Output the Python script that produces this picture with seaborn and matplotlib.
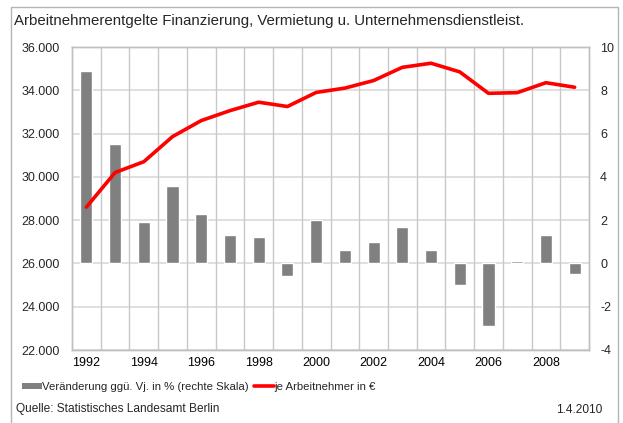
import matplotlib
matplotlib.use("Agg")
import matplotlib.pyplot as plt
from matplotlib.patches import Rectangle, Patch
from matplotlib.lines import Line2D
from matplotlib.ticker import FuncFormatter, FixedLocator
import seaborn as sns
import pandas as pd

years = [str(y) for y in range(1992, 2010)]
change_pct = [8.9, 5.5, 1.9, 3.6, 2.3, 1.3, 1.2, -0.6, 2.0, 0.6,
              1.0, 1.7, 0.6, -1.0, -2.9, 0.1, 1.3, -0.5]
per_employee = [28600, 30200, 30700, 31860, 32600, 33060, 33450, 33250, 33900, 34100,
                34450, 35060, 35250, 34850, 33860, 33890, 34350, 34140]
year_labels = ["1992", "1994", "1996", "1998", "2000", "2002", "2004", "2006", "2008"]

title = "Arbeitnehmerentgelte Finanzierung, Vermietung u. Unternehmensdienstleist."
bar_label = "Veränderung ggü. Vj. in % (rechte Skala)"
line_label = "je Arbeitnehmer in €"
source = "Quelle: Statistisches Landesamt Berlin"
date = "1.4.2010"

df = pd.DataFrame({"Jahr": years, "Veraenderung": change_pct, "Entgelt": per_employee})

sns.set_style("white")
plt.rcParams["font.family"] = ["Liberation Sans", "DejaVu Sans"]
plt.rcParams["axes.unicode_minus"] = False
FS = 8.6
TICK_FS = 9.0

W, H = 623, 423
fig = plt.figure(figsize=(W / 100, H / 100), dpi=100)
ax = fig.add_axes([72 / W, 1 - 350 / H, (589 - 72) / W, (350 - 47) / H])

# bars on the right-hand percentage scale
sns.barplot(data=df, x="Jahr", y="Veraenderung", color="#808080", saturation=1,
            width=0.42, ax=ax, zorder=2)

# line on the left-hand euro scale
ax2 = ax.twinx()
sns.lineplot(data=df, x="Jahr", y="Entgelt", color="#ff0000", lw=2.6, ax=ax2,
             sort=False, zorder=3)

ax.set_ylim(-4, 10)
ax.set_yticks(range(-4, 11, 2))
ax.yaxis.tick_right()
ax2.set_ylim(22000, 36000)
ax2.set_yticks(range(22000, 36001, 2000))
ax2.yaxis.tick_left()
ax2.yaxis.set_major_formatter(FuncFormatter(lambda v, p: f"{int(v):,}".replace(",", ".")))

for a in (ax, ax2):
    a.set_xlim(-0.5, len(years) - 0.5)
    a.set_xlabel("")
    a.set_ylabel("")
    a.grid(False)
    for s in a.spines.values():
        s.set_color("#c0c0c0")
        s.set_linewidth(1)

# horizontal grid at euro ticks, vertical grid between years
for v in range(22000, 36001, 2000):
    ax.axhline(-4 + (v - 22000) / 1000, color="#d9d9d9", lw=1.2, zorder=0)
for i in range(1, len(years)):
    ax.axvline(i - 0.5, color="#c8c8c8", lw=1, zorder=0)

ax.xaxis.set_major_locator(FixedLocator([years.index(y) for y in year_labels]))
ax.set_xticklabels(year_labels)
ax.tick_params(axis="x", length=0, pad=5, labelsize=TICK_FS, colors="#000000")
ax.tick_params(axis="y", length=0, pad=8, labelsize=TICK_FS, left=False, labelleft=False,
               right=True, labelright=True)
ax2.tick_params(axis="y", length=0, pad=8.6, labelsize=TICK_FS, left=True, labelleft=True,
                right=False, labelright=False)
ax2.tick_params(axis="x", length=0, labelbottom=False)

fig.text(14 / W, 1 - 21 / H, title, fontsize=10.8, va="center", ha="left")

handles = [Patch(facecolor="#808080", edgecolor="none"),
           Line2D([], [], color="#ff0000", lw=2.6)]
fig.legend(handles, [bar_label, line_label], loc="center left",
           bbox_to_anchor=(22 / W, 1 - 387 / H), ncol=2, frameon=False,
           fontsize=8.2, handlelength=1.75, handleheight=0.55, handletextpad=0.05,
           columnspacing=0.4, borderaxespad=0, borderpad=0)

fig.text(16 / W, 1 - 409 / H, source, fontsize=FS, va="center", ha="left")
fig.text(602 / W, 1 - 410 / H, date, fontsize=FS, va="center", ha="right")

fig.patches.append(Rectangle((11 / W, -0.02), (618 - 11) / W, 1.02 - 7 / H,
                             transform=fig.transFigure, fill=False,
                             edgecolor="#b4b4b4", lw=1))

fig.savefig("out.png", dpi=100)
